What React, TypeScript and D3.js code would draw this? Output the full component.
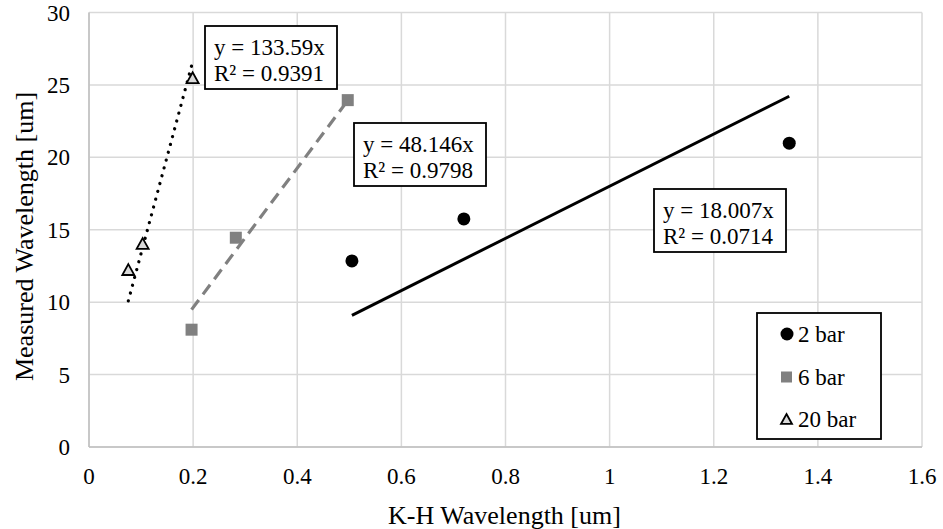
import React from "react";
import * as d3 from "d3";

// K-H wavelength (um) vs measured wavelength (um)
const xTicks = [0, 0.2, 0.4, 0.6, 0.8, 1, 1.2, 1.4, 1.6];
const yTicks = [0, 5, 10, 15, 20, 25, 30];

const bar2X = [0.505, 0.72, 1.345];
const bar2Y = [12.85, 15.75, 20.98];
const bar6X = [0.197, 0.282, 0.497];
const bar6Y = [8.1, 14.45, 23.95];
const bar20X = [0.0755, 0.103, 0.199];
const bar20Y = [12.25, 14.05, 25.5];

const slopes = [18.007, 48.146, 133.59];
const r2 = ["0.0714", "0.9798", "0.9391"];
const seriesNames = ["2 bar", "6 bar", "20 bar"];

const W = 943;
const H = 529;
const FONT = "'Liberation Serif', 'Times New Roman', serif";

const x = d3.scaleLinear().domain([0, 1.6]).range([89, 922]);
const y = d3.scaleLinear().domain([0, 30]).range([447, 12.5]);

const fmtX = (v: number) => (v === 0 || v === 1 ? String(v) : String(v));

const trend = (xs: number[], m: number) => {
  const lo = d3.min(xs) as number;
  const hi = d3.max(xs) as number;
  return d3.line<number>().x((d) => x(d)).y((d) => y(m * d))([lo, hi]) || "";
};

// label boxes (top-left corner in pixels) for each trendline
const boxes = [
  { left: 654, top: 189, slope: slopes[0], r: r2[0] },
  { left: 354, top: 123, slope: slopes[1], r: r2[1] },
  { left: 205, top: 26, slope: slopes[2], r: r2[2] },
];

const Triangle = ({ cx, cy, s }: { cx: number; cy: number; s: number }) => {
  const h = s * 0.9;
  const p = `M${cx},${cy - h / 2} L${cx + s / 2},${cy + h / 2} L${cx - s / 2},${cy + h / 2} Z`;
  return <path d={p} fill="#d9d9d9" stroke="#000" strokeWidth={1.8} />;
};

const App = () => {
  return (
    <svg
      width={W}
      height={H}
      style={{ position: "absolute", left: 0, top: 0, background: "#fff" }}
      fontFamily={FONT}
    >
      {/* gridlines */}
      {xTicks.map((t) => (
        <line key={"gx" + t} x1={x(t)} x2={x(t)} y1={y(0)} y2={y(30)} stroke="#d9d9d9" strokeWidth={1.5} />
      ))}
      {yTicks.map((t) => (
        <line key={"gy" + t} x1={x(0)} x2={x(1.6)} y1={y(t)} y2={y(t)} stroke="#d9d9d9" strokeWidth={1.5} />
      ))}
      <line x1={x(0)} x2={x(0)} y1={y(0)} y2={y(30)} stroke="#bfbfbf" strokeWidth={1.5} />
      <line x1={x(0)} x2={x(1.6)} y1={y(0)} y2={y(0)} stroke="#bfbfbf" strokeWidth={1.5} />

      {/* tick labels */}
      {yTicks.map((t) => (
        <text key={"ty" + t} x={70} y={y(t) + 8} textAnchor="end" fontSize={23} fill="#000">
          {t}
        </text>
      ))}
      {xTicks.map((t) => (
        <text key={"tx" + t} x={x(t)} y={484} textAnchor="middle" fontSize={23} fill="#000">
          {fmtX(t)}
        </text>
      ))}

      {/* axis titles */}
      <text x={(386 + 623) / 2} y={524} textAnchor="middle" fontSize={26} fill="#000">
        K-H Wavelength [um]
      </text>
      <text
        transform={`translate(33,${(85 + 388) / 2}) rotate(-90)`}
        textAnchor="middle"
        fontSize={26}
        fill="#000"
      >
        Measured Wavelength [um]
      </text>

      {/* trendlines */}
      <path d={trend(bar2X, slopes[0])} stroke="#000" strokeWidth={3} fill="none" />
      <path d={trend(bar6X, slopes[1])} stroke="#808080" strokeWidth={3.2} strokeDasharray="12 7" fill="none" />
      <path
        d={trend(bar20X, slopes[2])}
        stroke="#000"
        strokeWidth={3.2}
        strokeDasharray="0.1 8"
        strokeLinecap="round"
        fill="none"
      />

      {/* markers */}
      {bar2X.map((v, i) => (
        <circle key={"c" + i} cx={x(v)} cy={y(bar2Y[i])} r={6.5} fill="#000" />
      ))}
      {bar6X.map((v, i) => (
        <rect key={"s" + i} x={x(v) - 6} y={y(bar6Y[i]) - 6} width={12} height={12} fill="#808080" />
      ))}
      {bar20X.map((v, i) => (
        <Triangle key={"t" + i} cx={x(v)} cy={y(bar20Y[i])} s={12} />
      ))}

      {/* equation boxes */}
      {boxes.map((b, i) => (
        <g key={"b" + i}>
          <rect x={b.left} y={b.top} width={132} height={63} fill="#fff" stroke="#000" strokeWidth={1.8} />
          <text x={b.left + 9} y={b.top + 29} fontSize={23} fill="#000">
            y = {b.slope}x
          </text>
          <text x={b.left + 9} y={b.top + 55} fontSize={23} fill="#000">
            R² = {b.r}
          </text>
        </g>
      ))}

      {/* legend */}
      <rect x={757} y={313} width={124} height={126} fill="#fff" stroke="#000" strokeWidth={1.8} />
      <circle cx={787} cy={334} r={6.5} fill="#000" />
      <rect x={781} y={371.5} width={11} height={11} fill="#808080" />
      <Triangle cx={786.5} cy={419} s={11} />
      {seriesNames.map((n, i) => (
        <text key={"l" + i} x={798} y={342 + i * 42.5} fontSize={23} fill="#000">
          {n}
        </text>
      ))}
    </svg>
  );
};

export default App;
